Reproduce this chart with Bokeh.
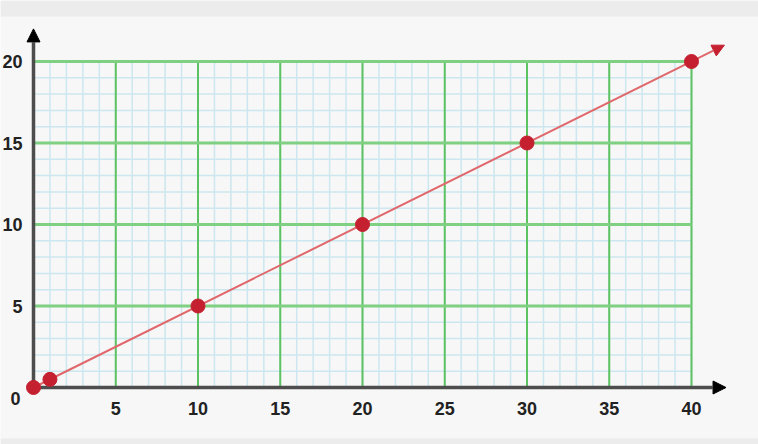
from bokeh.plotting import figure
from bokeh.models import Range1d, FixedTicker, Arrow, NormalHead, Label, BoxAnnotation
from bokeh.embed import file_html
from bokeh.resources import INLINE

# ---- data ----
x_values = [0, 1, 10, 20, 30, 40]
y_values = [0, 0.5, 5, 10, 15, 20]
x_ticks = [5, 10, 15, 20, 25, 30, 35, 40]
y_ticks = [5, 10, 15, 20]
x_minor = list(range(1, 41))
y_minor = list(range(1, 21))
x_max, y_max = 40, 20
line_tip = (42, 21)
x_axis_tip = 42.1
y_axis_tip = 22.0

# ---- layout ----
W, H = 758, 444
ox, oy = 33, 387          # origin position in figure pixels
sx, sy = 16.45, 16.3      # pixels per unit

p = figure(width=W, height=H, output_backend="svg", toolbar_location=None,
           x_range=Range1d(-ox / sx, (W - ox) / sx),
           y_range=Range1d(-(H - oy) / sy, oy / sy),
           min_border=0, min_border_left=0, min_border_right=0,
           min_border_top=0, min_border_bottom=0)
p.outline_line_color = None
p.background_fill_color = "#f7f7f7"
p.border_fill_color = "#f7f7f7"
p.xgrid.visible = False
p.ygrid.visible = False

# light page bands at top and bottom
p.add_layout(BoxAnnotation(top=0, bottom=16, top_units="canvas", bottom_units="canvas",
                           fill_color="#ececec", fill_alpha=1, line_color=None, level="image"))
p.add_layout(BoxAnnotation(top=438, bottom=444, top_units="canvas", bottom_units="canvas",
                           fill_color="#ececec", fill_alpha=1, line_color=None, level="image"))

font = "Liberation Sans"
for ax, ticks, standoff in ((p.xaxis, x_ticks, 8), (p.yaxis, y_ticks, 5)):
    ax.fixed_location = 0
    ax.ticker = FixedTicker(ticks=ticks)
    ax.axis_line_color = None
    ax.major_tick_line_color = None
    ax.minor_tick_line_color = None
    ax.major_label_text_font = font
    ax.major_label_text_font_style = "bold"
    ax.major_label_text_font_size = "18px"
    ax.major_label_text_color = "#222222"
    ax.major_label_standoff = standoff

# minor grid
p.segment(x0=x_minor, y0=[0] * len(x_minor), x1=x_minor, y1=[y_max] * len(x_minor),
          line_color="#cce7ef", line_width=1.5, level="underlay")
p.segment(x0=[0] * len(y_minor), y0=y_minor, x1=[x_max] * len(y_minor), y1=y_minor,
          line_color="#cce7ef", line_width=1.5, level="underlay")
# major grid
p.segment(x0=x_ticks, y0=[0] * len(x_ticks), x1=x_ticks, y1=[y_max] * len(x_ticks),
          line_color="#5cc262", line_width=2, level="underlay")
p.segment(x0=[0] * len(y_ticks), y0=y_ticks, x1=[x_max] * len(y_ticks), y1=y_ticks,
          line_color="#7fd082", line_width=3, level="underlay")

# axes with arrowheads
for xe, ye in ((x_axis_tip, 0), (0, y_axis_tip)):
    p.add_layout(Arrow(x_start=0, y_start=0, x_end=xe, y_end=ye,
                       line_color="#4d4d4d", line_width=3.5, level="underlay",
                       end=NormalHead(size=13, fill_color="black", line_color="black")))

# red line with arrowhead
p.add_layout(Arrow(x_start=x_values[0], y_start=y_values[0], x_end=line_tip[0], y_end=line_tip[1],
                   line_color="#e0676b", line_width=2, level="underlay",
                   end=NormalHead(size=12, fill_color="#c42030", line_color="#c42030")))

p.scatter(x_values, y_values, size=14, fill_color="#c42030", line_color="#c42030")

p.add_layout(Label(x=0, y=0, x_offset=-18, y_offset=-11, text="0",
                   text_align="center", text_baseline="middle",
                   text_font=font, text_font_style="bold", text_font_size="18px",
                   text_color="#222222"))

html = file_html(p, INLINE)
html = html.replace("<body>", '<body style="background:#f7f7f7">', 1)
open("out.html", "w").write(html)
